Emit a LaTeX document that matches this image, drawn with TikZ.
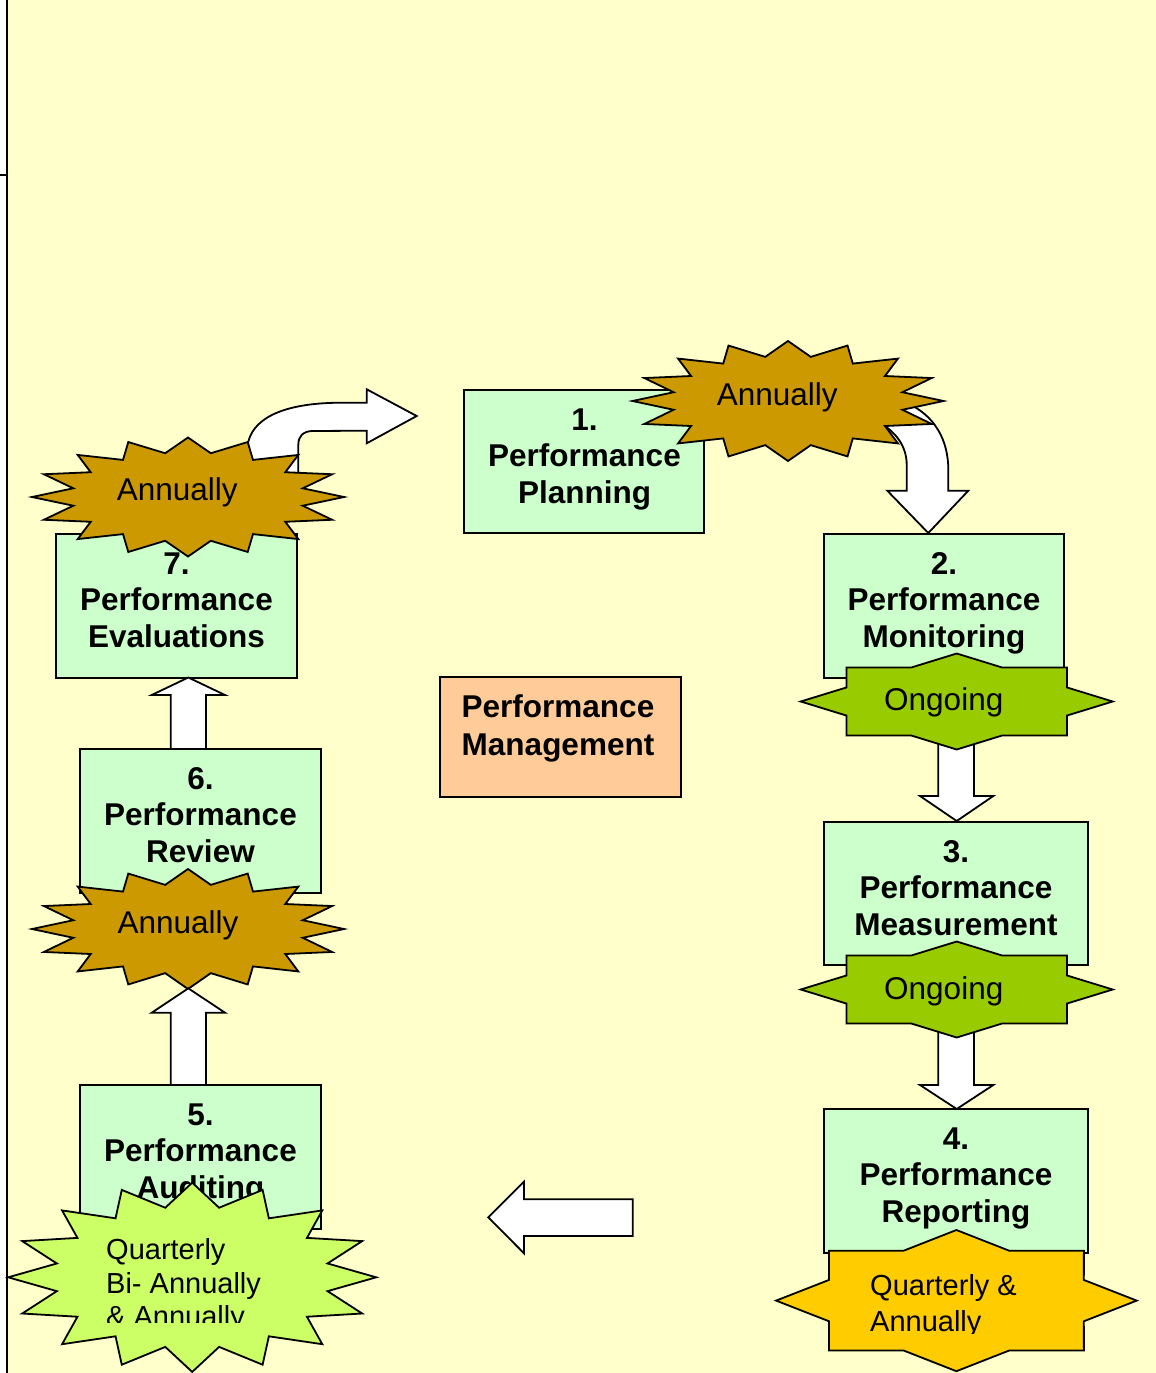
\documentclass[tikz,border=0pt]{standalone}
\usepackage{fontspec}
\setmainfont{Liberation Sans}
\definecolor{bgc}{HTML}{FFFFCC}
\definecolor{boxc}{HTML}{CCFFCC}
\definecolor{pmc}{HTML}{FFCC99}
\definecolor{annc}{HTML}{CC9900}
\definecolor{ongc}{HTML}{99CC00}
\definecolor{qrc}{HTML}{FFCC00}
\definecolor{qlc}{HTML}{CCFF66}
% star: #1 style, #2 cx, #3 cy, #4 rx, #5 ry, #6 n, #7 2n-1, #8 inner ratio
\newcommand{\burstshape}[8]{%
  \draw[#1] ({#2+#4},{#3}) \foreach \kidx in {1,...,#7} {
    -- ({#2+#4*(1-(1-#8)*mod(\kidx,2))*cos(\kidx*180/#6)},{#3+#5*(1-(1-#8)*mod(\kidx,2))*sin(\kidx*180/#6)}) } -- cycle;}
\begin{document}
\begin{tikzpicture}[x=1pt,y=-1pt,line join=miter,
  box/.style={draw=black, line width=1.8pt, fill=boxc, inner sep=0pt},
  btxt/.style={font=\fontsize{31.5}{36.5}\selectfont\bfseries, align=center, anchor=north, inner sep=0pt},
  lbl/.style={font=\fontsize{31.5}{36}\selectfont, anchor=base west, inner sep=0pt},
  qlbl/.style={font=\fontsize{29}{#1}\selectfont, align=left, anchor=north west, inner sep=0pt},
  barrow/.style={draw=black, fill=white, line width=1.8pt},
  burst/.style={draw=black, fill=#1, line width=1.8pt}]
\useasboundingbox (0,0) rectangle (1156,1373);
\fill[white] (0,0) rectangle (1156,1373);
\fill[bgc] (7,0) rectangle (1156,1373);

% boxes
\node[box, minimum width=240pt, minimum height=143pt] (b1) at (584,461.5) {};
\node[btxt] (t1) at (584.5,406) {\rule{0pt}{24pt}1.\\Performance\\Planning};
\node[box, minimum width=240pt, minimum height=144pt] (b2) at (944,606) {};
\node[btxt] (t2) at (944,550) {\rule{0pt}{24pt}2.\\Performance\\Monitoring};
\node[box, minimum width=264pt, minimum height=143pt] (b3) at (956,893.5) {};
\node[btxt] (t3) at (956,838) {\rule{0pt}{24pt}3.\\Performance\\Measurement};
\node[box, minimum width=264pt, minimum height=144pt] (b4) at (956,1181) {};
\node[btxt] (t4) at (956,1125) {\rule{0pt}{24pt}4.\\Performance\\Reporting};
\node[box, minimum width=241pt, minimum height=144pt] (b5) at (200.5,1157) {};
\node[btxt] (t5) at (200.5,1101) {\rule{0pt}{24pt}5.\\Performance\\Auditing};
\node[box, minimum width=241pt, minimum height=144pt] (b6) at (200.5,821) {};
\node[btxt] (t6) at (200.5,765) {\rule{0pt}{24pt}6.\\Performance\\Review};
\node[box, minimum width=241pt, minimum height=144pt] (b7) at (176.5,606) {};
\node[btxt] (t7) at (176.5,550) {\rule{0pt}{24pt}7.\\Performance\\Evaluations};
\node[box, fill=pmc, minimum width=241pt, minimum height=120pt] (pm) at (560.5,737) {};
\node[btxt, font=\fontsize{31.5}{38}\selectfont\bfseries] (tpm) at (558,693) {\rule{0pt}{24pt}Performance\\Management};

% block arrows
\draw[barrow] (248.3,480) -- (248.3,441.7) .. controls (255,415) and (290,403) .. (340,402.7)
  -- (366.7,402.7) -- (366.7,389.3) -- (416.7,416) -- (366.7,443.3) -- (366.7,430.7)
  -- (312,431) .. controls (303,431.5) and (298.3,436) .. (298.3,445) -- (298.3,480) -- cycle;
\draw[barrow] (875,405) -- (905,402) .. controls (935,415) and (948.3,440) .. (948.3,470)
  -- (948.3,490.7) -- (968.3,490.7) -- (928.3,533) -- (887.3,490.7) -- (906.7,490.7)
  -- (906.7,465) .. controls (906.7,448) and (898,432) .. (875,420) -- cycle;
\draw[barrow] (170.7,749) -- (170.7,695) -- (151.7,695) -- (188.3,677.5) -- (225,695) -- (206,695) -- (206,749) -- cycle;
\draw[barrow] (938.3,730) -- (938.3,796) -- (920,796) -- (956.7,821) -- (993.3,796) -- (974,796) -- (974,730) -- cycle;
\draw[barrow] (938.3,1020) -- (938.3,1085) -- (920,1085) -- (956.7,1109) -- (993.3,1085) -- (974,1085) -- (974,1020) -- cycle;
\draw[barrow] (632.7,1199.3) -- (524,1199.3) -- (524,1181.7) -- (488.3,1217.3) -- (524,1253.3) -- (524,1236) -- (632.7,1236) -- cycle;

% bursts and labels
\burstshape{burst=annc}{788}{401}{155.5}{60}{16}{31}{0.75}
\node[lbl] (l1) at (716.7,405) {Annually};
\burstshape{burst=annc}{188}{497}{156}{59.5}{16}{31}{0.75}
\node[lbl] (l7) at (116.7,500.7) {Annually};
\burstshape{burst=annc}{188}{929}{156}{60}{16}{31}{0.75}
\node[lbl] (l6) at (117.3,933.3) {Annually};
\draw[barrow] (170.7,1085) -- (170.7,1012.7) -- (151.7,1012.7) -- (188.3,988.3) -- (225,1012.7) -- (206,1012.7) -- (206,1085) -- cycle;
\burstshape{burst=ongc}{956.7}{701.5}{156}{48}{8}{15}{0.765}
\node[lbl] (l2) at (884,710.5) {Ongoing};
\burstshape{burst=ongc}{956.7}{989.5}{156}{48}{8}{15}{0.765}
\node[lbl] (l3) at (884,999.5) {Ongoing};
\burstshape{burst=qrc}{956.4}{1300.6}{180.3}{70.6}{8}{15}{0.765}
\begin{scope}
\clip (0,0) rectangle (1156,1333);
\node[qlbl=36.7] (l4) at (870,1273) {\rule{0pt}{22pt}Quarterly \&\\Annually};
\end{scope}
\burstshape{burst=qlc}{192.2}{1277.3}{184}{94.6}{16}{31}{0.75}
\begin{scope}
\clip (0,0) rectangle (1156,1322.7);
\node[qlbl=33.5] (l5) at (106,1237.3) {\rule{0pt}{22pt}Quarterly\\Bi- Annually\\\& Annually};
\end{scope}

% left frame line
\draw[line width=2.5pt] (7,0) -- (7,1373);
\draw[line width=2.5pt] (0,175) -- (7,175);
\end{tikzpicture}
\end{document}
